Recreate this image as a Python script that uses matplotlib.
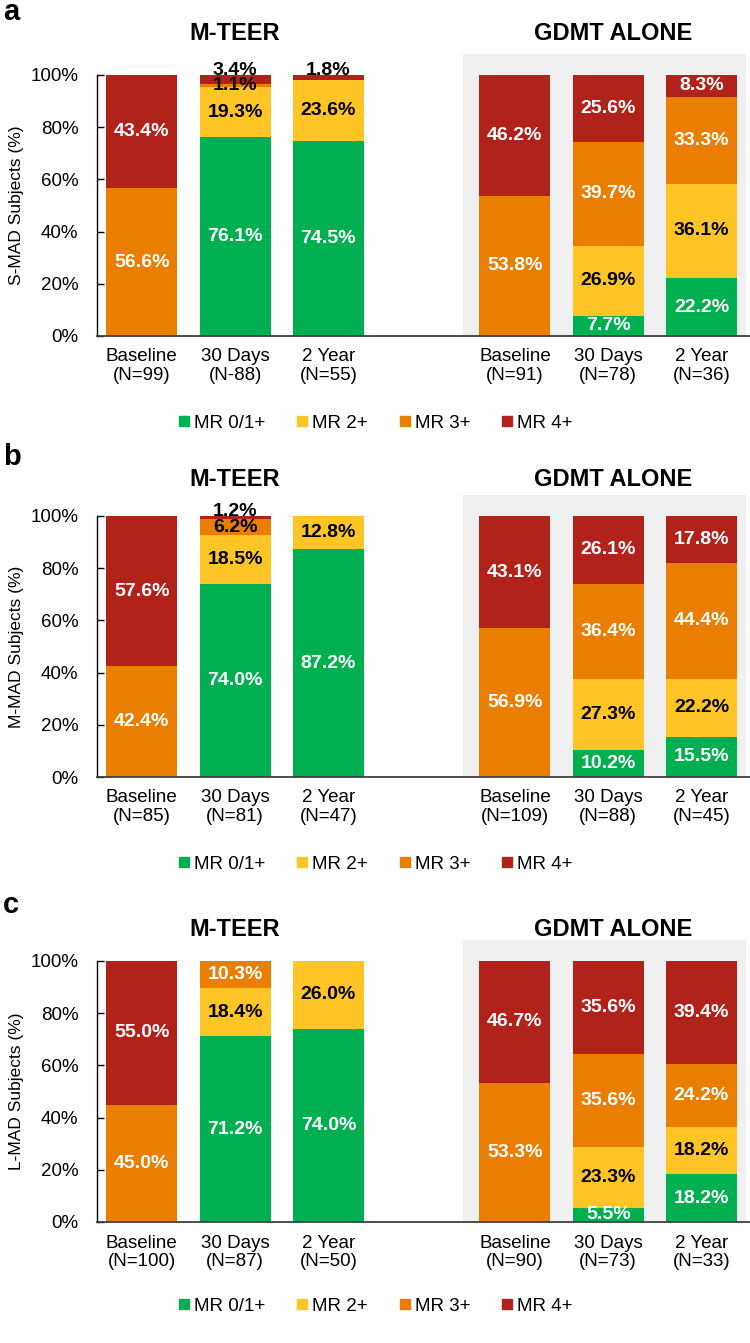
import matplotlib
matplotlib.use("Agg")
import matplotlib.pyplot as plt
import matplotlib.transforms as mtransforms
from matplotlib.lines import Line2D

plt.rcParams["font.family"] = ["Liberation Sans", "DejaVu Sans"]

# bar order: M-TEER Baseline, 30 Days, 2 Year, GDMT Baseline, 30 Days, 2 Year
categories = ["Baseline", "30 Days", "2 Year", "Baseline", "30 Days", "2 Year"]
series_names = ["MR 0/1+", "MR 2+", "MR 3+", "MR 4+"]

a_mr01 = [0, 76.1, 74.5, 0, 7.7, 22.2]
a_mr2 = [0, 19.3, 23.6, 0, 26.9, 36.1]
a_mr3 = [56.6, 1.1, 0, 53.8, 39.7, 33.3]
a_mr4 = [43.4, 3.4, 1.8, 46.2, 25.6, 8.3]
a_n = ["(N=99)", "(N-88)", "(N=55)", "(N=91)", "(N=78)", "(N=36)"]

b_mr01 = [0, 74.0, 87.2, 0, 10.2, 15.5]
b_mr2 = [0, 18.5, 12.8, 0, 27.3, 22.2]
b_mr3 = [42.4, 6.2, 0, 56.9, 36.4, 44.4]
b_mr4 = [57.6, 1.2, 0, 43.1, 26.1, 17.8]
b_n = ["(N=85)", "(N=81)", "(N=47)", "(N=109)", "(N=88)", "(N=45)"]

c_mr01 = [0, 71.2, 74.0, 0, 5.5, 18.2]
c_mr2 = [0, 18.4, 26.0, 0, 23.3, 18.2]
c_mr3 = [45.0, 10.3, 0, 53.3, 35.6, 24.2]
c_mr4 = [55.0, 0, 0, 46.7, 35.6, 39.4]
c_n = ["(N=100)", "(N=87)", "(N=50)", "(N=90)", "(N=73)", "(N=33)"]

colors = ["#00B050", "#FFC527", "#E97E00", "#B1221A"]
xpos = [0, 1, 2, 4, 5, 6]

W, H = 750, 1343
fig = plt.figure(figsize=(W / 100, H / 100), dpi=100)

panels = [
    ("a", "S-MAD Subjects (%)", [a_mr01, a_mr2, a_mr3, a_mr4], a_n, 336, 33, 20, 423),
    ("b", "M-MAD Subjects (%)", [b_mr01, b_mr2, b_mr3, b_mr4], b_n, 777, 480, 465, 864),
    ("c", "L-MAD Subjects (%)", [c_mr01, c_mr2, c_mr3, c_mr4], c_n, 1222, 929, 913, 1306),
]

for letter, ylabel, series, nlabels, bottom_px, title_px, letter_px, leg_px in panels:
    ax = fig.add_axes([97 / W, 1 - bottom_px / H, 1 - 97 / W, 282 / H])
    ax.axvspan(3.44, 6.48, color="#F0F0F0", zorder=0, lw=0)

    bottoms = [0.0] * 6
    for k, vals in enumerate(series):
        ax.bar(xpos, vals, width=0.76, bottom=bottoms, color=colors[k], zorder=2, lw=0)
        for i, v in enumerate(vals):
            if v <= 0:
                continue
            y = bottoms[i] + v / 2
            txt_color = "black" if k == 1 else "white"
            if k == 2 and v < 7:
                txt_color = "black"
            if k == 3 and v < 4:
                # tiny top segment: label sits just above the bar
                txt_color = "black"
                y = 101.5
            ax.text(xpos[i], y, f"{v:.1f}%", ha="center", va="center",
                    fontsize=14, fontweight="bold", color=txt_color, zorder=3)
        bottoms = [b + v for b, v in zip(bottoms, vals)]

    ax.set_xlim(-0.48, 6.52)
    ax.set_ylim(0, 108)
    ax.set_yticks(range(0, 101, 20))
    ax.set_yticklabels([f"{t}%" for t in range(0, 101, 20)], fontsize=13.5)
    ax.tick_params(axis="y", direction="in", length=5, width=1, pad=13.5)
    ax.set_xticks(xpos)
    ax.set_xticklabels([f"{c}\n{n}" for c, n in zip(categories, nlabels)],
                       fontsize=13.5, linespacing=1.15)
    ax.tick_params(axis="x", length=0, pad=9)
    for side in ["top", "right"]:
        ax.spines[side].set_visible(False)
    ax.spines["left"].set_bounds(0, 100)
    ax.spines["left"].set_linewidth(1)
    ax.spines["bottom"].set_color("#404040")
    ax.spines["bottom"].set_linewidth(1.3)
    ax.set_ylabel(ylabel, fontsize=12.5)
    ax.yaxis.set_label_coords(-0.112, 50 / 108)

    trans = mtransforms.blended_transform_factory(ax.transData, fig.transFigure)
    ax.text(1, 1 - title_px / H, "M-TEER", transform=trans, ha="center", va="center",
            fontsize=17, fontweight="bold")
    ax.text(5.05, 1 - title_px / H, "GDMT ALONE", transform=trans, ha="center", va="center",
            fontsize=17, fontweight="bold")
    fig.text(3 / W, 1 - letter_px / H, letter, fontsize=21, fontweight="bold",
             ha="left", va="baseline")

    handles = [Line2D([], [], marker="s", linestyle="none", markersize=7,
                      markerfacecolor=c, markeredgecolor=c) for c in colors]
    fig.legend(handles, series_names, loc="center", bbox_to_anchor=(0.5, 1 - leg_px / H),
               ncol=4, frameon=False, fontsize=13.5, handlelength=0.7,
               handletextpad=0.2, columnspacing=1.6)

fig.savefig("out.png", dpi=100)
